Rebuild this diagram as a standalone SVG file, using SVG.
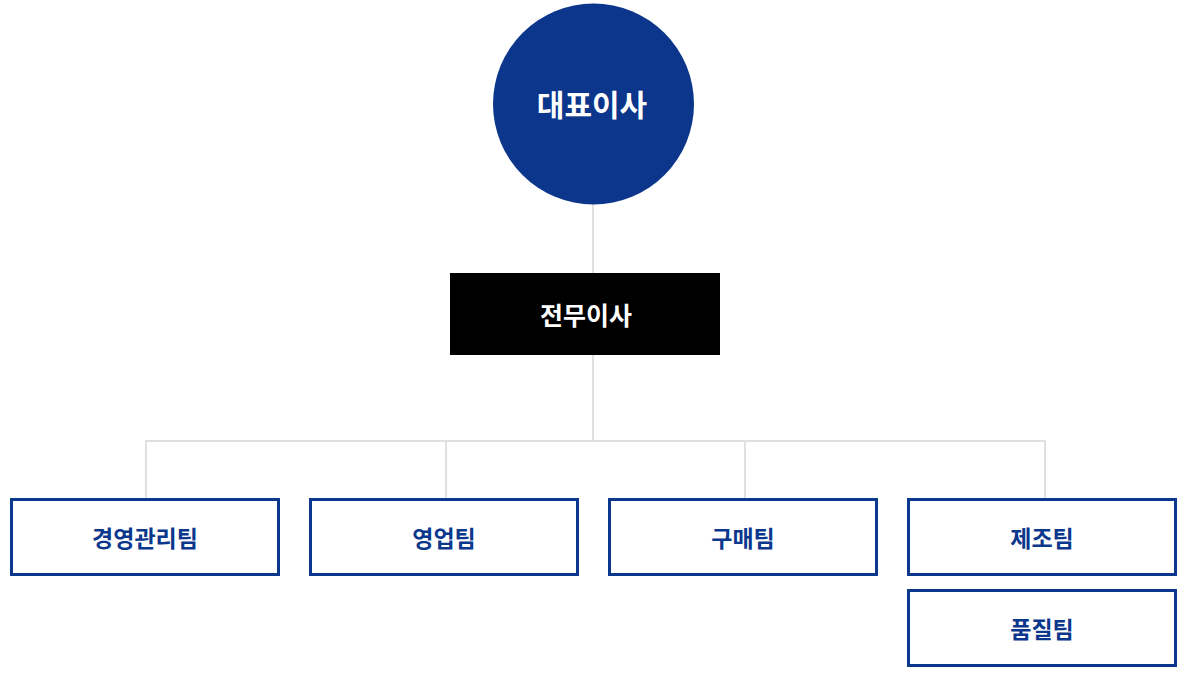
<svg xmlns="http://www.w3.org/2000/svg" width="1185" height="686" viewBox="0 0 1185 686">
<style>
.line{stroke:#e0e0e0;stroke-width:2;fill:none}
.team rect{fill:#fff;stroke:#0b378d;stroke-width:3}
.team text{fill:#0b378d;font-family:"Noto Sans CJK KR","Noto Sans",sans-serif;font-weight:700;font-size:23px;text-anchor:middle}
.head{font-family:"Noto Sans CJK KR","Noto Sans",sans-serif;font-weight:700;fill:#fff;text-anchor:middle}
</style>
<rect width="1185" height="686" fill="#fff"/>
<g id="connectors">
<path class="line" d="M593,204V273M593,355V441M146,441H1045M146,440V499M446,440V499M745,440V499M1045,440V499"/>
</g>
<g id="ceo">
<circle cx="593.5" cy="104" r="100.5" fill="#0b368b"/>
<text class="head" x="592" y="116" font-size="30">대표이사</text>
</g>
<g id="director">
<rect x="450" y="273" width="270" height="82" fill="#000"/>
<text class="head" x="586" y="325" font-size="25" font-weight="500">전무이사</text>
</g>
<g id="mgmt" class="team">
<rect x="11.5" y="499.5" width="267" height="75"/>
<text x="145" y="547">경영관리팀</text>
</g>
<g id="sales" class="team">
<rect x="310.5" y="499.5" width="267" height="75"/>
<text x="444" y="547">영업팀</text>
</g>
<g id="purchase" class="team">
<rect x="609.5" y="499.5" width="267" height="75"/>
<text x="743" y="547">구매팀</text>
</g>
<g id="manufacture" class="team">
<rect x="908.5" y="499.5" width="267" height="75"/>
<text x="1042" y="547">제조팀</text>
</g>
<g id="quality" class="team">
<rect x="908.5" y="590.5" width="267" height="75"/>
<text x="1042" y="638">품질팀</text>
</g>
</svg>
